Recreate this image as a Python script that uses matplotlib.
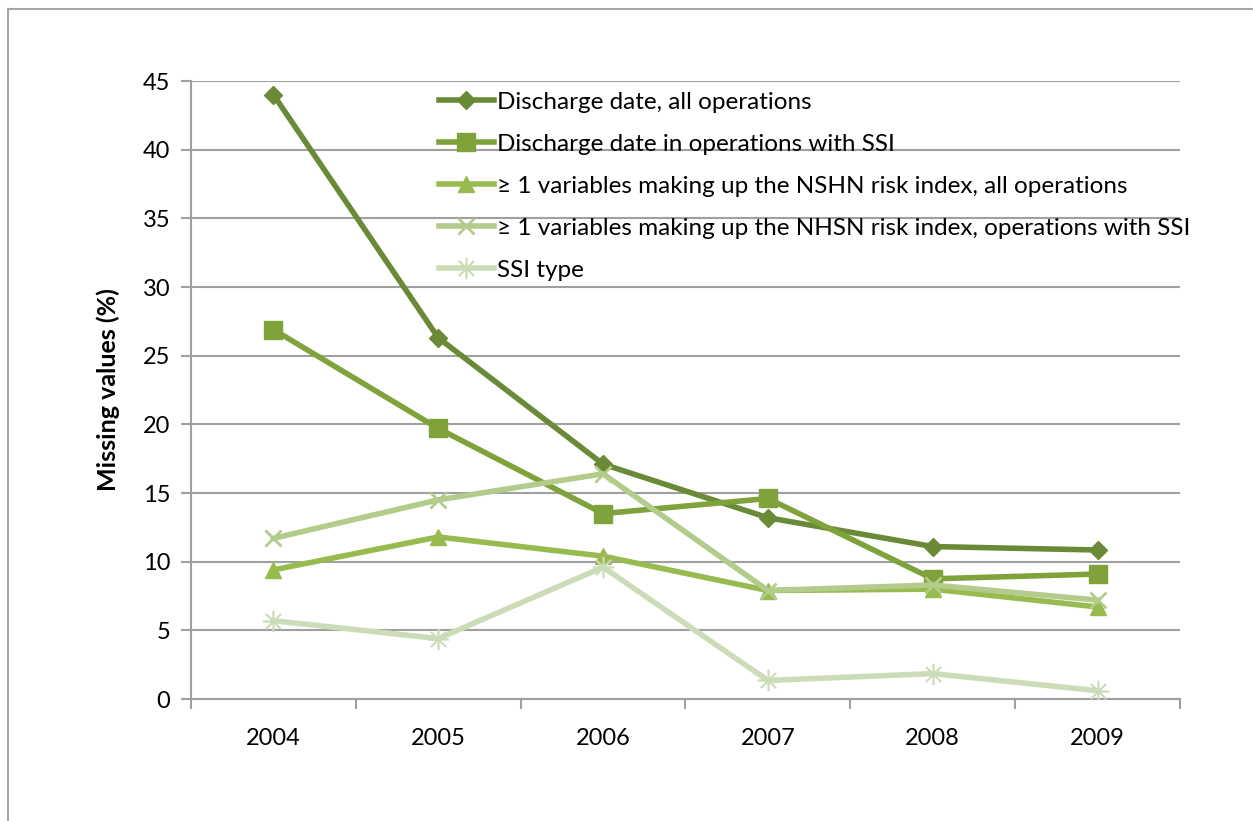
import matplotlib
matplotlib.use("Agg")
import matplotlib.pyplot as plt
from matplotlib.lines import Line2D

plt.rcParams['font.family'] = ['Lato', 'DejaVu Sans']

years = ['2004', '2005', '2006', '2007', '2008', '2009']
discharge_all = [44.0, 26.3, 17.1, 13.2, 11.1, 10.85]
discharge_ssi = [26.9, 19.7, 13.5, 14.6, 8.75, 9.1]
nhsn_all = [9.4, 11.8, 10.4, 7.9, 8.0, 6.7]
nhsn_ssi = [11.7, 14.5, 16.4, 7.9, 8.3, 7.2]
ssi_type = [5.7, 4.4, 9.6, 1.35, 1.85, 0.6]

labels = ['Discharge date, all operations',
          'Discharge date in operations with SSI',
          '\u2265 1 variables making up the NSHN risk index, all operations',
          '\u2265 1 variables making up the NHSN risk index, operations with SSI',
          'SSI type']

series = [discharge_all, discharge_ssi, nhsn_all, nhsn_ssi, ssi_type]
colors = ['#6a8a37', '#7fa23a', '#98bb4f', '#b3cb8b', '#cddcb8']
markers = ['D', 's', '^', 'x', '$\u2733$']
msizes = [9, 13, 12, 12, 15]

fig = plt.figure(figsize=(12.53, 8.21), dpi=100)
# outer chart frame (partially visible)
fig.add_artist(Line2D([8/1253, 8/1253], [0, 1 - 9/821], color='#a6a6a6', lw=1.5))
fig.add_artist(Line2D([8/1253, 1], [1 - 9/821, 1 - 9/821], color='#a6a6a6', lw=1.5))

ax = fig.add_axes([191/1253, 1 - 699/821, (1180 - 191)/1253, (699 - 81)/821])
x = list(range(len(years)))
for vals, c, m, ms, lab in zip(series, colors, markers, msizes, labels):
    if m == 'x':
        ax.plot(x, vals, color=c, lw=4, marker=m, ms=ms, mew=2, label=lab, zorder=3)
    elif m.startswith('$'):
        ax.plot(x, vals, color=c, lw=4, marker=m, ms=ms, mew=0.5, label=lab, zorder=3)
    else:
        ax.plot(x, vals, color=c, lw=4, marker=m, ms=ms, label=lab, zorder=3)

ax.set_xlim(-0.5, 5.5)
ax.set_ylim(0, 45)
ax.set_yticks(range(0, 46, 5))
ax.set_xticks(x)
ax.set_xticklabels(years)
ax.set_xticks([i - 0.5 for i in range(7)], minor=True)
ax.tick_params(axis='x', which='major', length=0, pad=21, labelsize=17)
ax.tick_params(axis='x', which='minor', length=7, width=1.5, color='#a0a0a0', direction='out')
ax.tick_params(axis='y', length=7, width=1.5, color='#a0a0a0', direction='out', labelsize=17, pad=8)
ax.grid(axis='y', color='#a0a0a0', lw=1.5, zorder=0)
ax.set_axisbelow(True)
for s in ['top', 'right']:
    ax.spines[s].set_visible(False)
for s in ['left', 'bottom']:
    ax.spines[s].set_color('#a0a0a0')
    ax.spines[s].set_linewidth(1.5)
ax.set_ylabel('Missing values (%)', fontsize=18, fontweight='bold', labelpad=16)

leg = ax.legend(loc='upper left', bbox_to_anchor=((428 - 191)/989, 1.0), frameon=False,
                fontsize=17.5, handlelength=2.25, handletextpad=0.12, labelspacing=0.86,
                borderaxespad=0.0, borderpad=0.45)

fig.savefig('out.png', dpi=100)
